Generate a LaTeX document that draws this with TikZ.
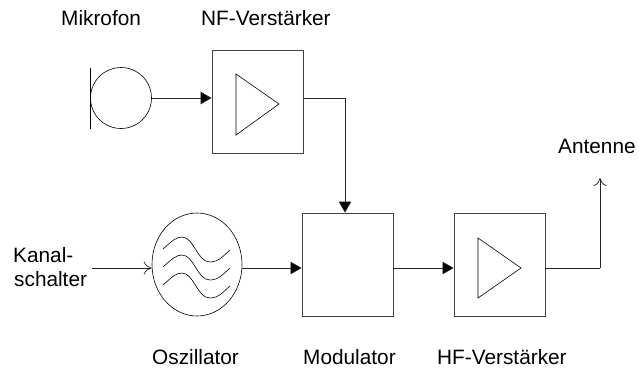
\documentclass[tikz,border=0pt]{standalone}
\usepackage{fontspec}
\setmainfont{Liberation Sans}
\usetikzlibrary{arrows.meta,shapes.geometric}
\tikzset{
  x=1pt,y=-1pt,
  wire/.style={line width=0.75pt,draw=black!85},
  fillhead/.style={wire,-{Triangle[length=11pt,width=12.5pt,fill=black]}},
  openhead/.style={wire,-{To[length=8pt,width=13pt]}},
  blockbox/.style={draw=black!75,line width=0.8pt,minimum width=91pt,minimum height=103pt,inner sep=0pt},
  thinshape/.style={draw=black,line width=0.6pt},
  lab/.style={font=\fontsize{20.8}{24}\selectfont,inner sep=0pt,text=black},
}
\begin{document}
\begin{tikzpicture}
\useasboundingbox (0,0) rectangle (639,372);
\fill[white] (0,0) rectangle (639,372);
\node[circle,thinshape,minimum size=61pt,inner sep=0pt] (mic) at (121,98) {};
\node[blockbox] (nf) at (257.5,101.5) {};
\node[blockbox] (mod) at (347.5,264.5) {};
\node[blockbox] (hf) at (499.5,264.5) {};
\node[ellipse,thinshape,minimum width=90pt,minimum height=103pt,inner sep=0pt] (osc) at (197,264.5) {};
\coordinate (micbarT) at (90,68);
\coordinate (micbarB) at (90,129);
\draw[thinshape] (micbarT) -- (micbarB);
\draw[thinshape] (236,74) -- (279,104) -- (236,135) -- cycle;
\draw[thinshape] (478,238) -- (521,268) -- (478,298) -- cycle;
\foreach \d in {0,18,36}{
  \draw[thinshape,yshift=-\d pt] (163,249) .. controls (172,241) and (176,237) .. (182,237)
     .. controls (194,237) and (197,262) .. (210,262) .. controls (219,262) and (224,255) .. (230,250);
}
\coordinate (row) at (0,268);
\coordinate (kanal) at (92,268);
\coordinate (bendA) at (345,98);
\coordinate (bendB) at (600,268);
\coordinate (ant) at (600,178);
\draw[fillhead] (mic.east) -- (nf.west |- mic.east);
\draw[wire] (nf.east |- mic.east) -- (bendA);
\draw[fillhead] (bendA) -- (bendA |- mod.north);
\draw[openhead] (kanal) -- (row -| osc.west);
\draw[fillhead] (row -| osc.east) -- (row -| mod.west);
\draw[fillhead] (row -| mod.east) -- (row -| hf.west);
\draw[wire] (row -| hf.east) -- (bendB);
\draw[openhead] (bendB) -- (ant);
\node[lab,anchor=base west] (t1) at (61,25) {Mikrofon};
\node[lab,anchor=base west] (t2) at (201,25) {NF-Verstärker};
\node[lab,anchor=base west] (t3) at (558,153) {Antenne};
\node[lab,anchor=base west] (t4) at (13,262) {Kanal-};
\node[lab,anchor=base west] (t5) at (14,286) {schalter};
\node[lab,anchor=base west] (t6) at (152,364) {Oszillator};
\node[lab,anchor=base west] (t7) at (303,364) {Modulator};
\node[lab,anchor=base west] (t8) at (437,364) {HF-Verstärker};
\end{tikzpicture}
\end{document}
